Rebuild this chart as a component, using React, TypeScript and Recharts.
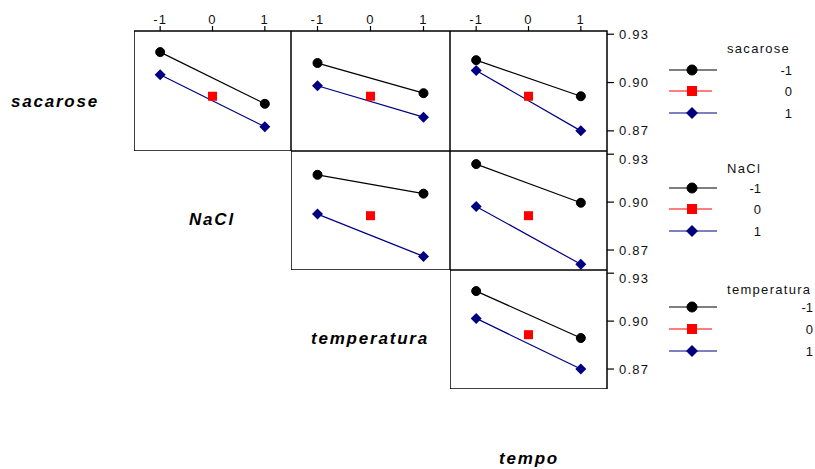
import React from 'react'
import {
  LineChart,
  Line,
  XAxis,
  YAxis,
  ReferenceArea,
} from 'recharts'

// factors in the matrix: rows hold the trace factor, columns the x factor
const factors = ['sacarose', 'NaCl', 'temperatura', 'tempo']
const xLevels = [-1, 1]
const xTicks = [-1, 0, 1]
const yTicks = [0.87, 0.9, 0.93]
const legendLevels = ['-1', '0', '1']

// mean response at x = -1 and x = 1, trace factor at -1 (low) and 1 (high)
const sacaroseNaClLow = [0.9189, 0.8868]
const sacaroseNaClHigh = [0.9048, 0.8726]
const sacaroseTemperaturaLow = [0.9121, 0.8934]
const sacaroseTemperaturaHigh = [0.898, 0.8785]
const sacaroseTempoLow = [0.9139, 0.8915]
const sacaroseTempoHigh = [0.9075, 0.87]
const naclTemperaturaLow = [0.9171, 0.9053]
const naclTemperaturaHigh = [0.8925, 0.866]
const naclTempoLow = [0.9238, 0.8996]
const naclTempoHigh = [0.8973, 0.8611]
const temperaturaTempoLow = [0.9188, 0.8894]
const temperaturaTempoHigh = [0.9017, 0.87]
// center point (all factors at 0)
const centerValue = 0.8915

const FONT = '"Liberation Sans", Arial, sans-serif'
const BLACK = '#000000'
const RED = '#ff0000'
const NAVY = '#000080'

const X_DOMAIN: [number, number] = [-1.5, 1.5]
const Y_DOMAIN: [number, number] = [0.8575, 0.932]

const colX = [134, 291, 450]
const colW = [157, 159, 157]
const rowY = [31, 151, 270]
const rowH = [120, 119, 119]
const TOP_AXIS = 31
const RIGHT_AXIS = 60

const panels = [
  { row: 0, col: 0, low: sacaroseNaClLow, high: sacaroseNaClHigh },
  { row: 0, col: 1, low: sacaroseTemperaturaLow, high: sacaroseTemperaturaHigh },
  { row: 0, col: 2, low: sacaroseTempoLow, high: sacaroseTempoHigh },
  { row: 1, col: 1, low: naclTemperaturaLow, high: naclTemperaturaHigh },
  { row: 1, col: 2, low: naclTempoLow, high: naclTempoHigh },
  { row: 2, col: 2, low: temperaturaTempoLow, high: temperaturaTempoHigh },
]

function Circle({ cx, cy, r, color }: any) {
  return <circle cx={cx} cy={cy} r={r} fill={color} stroke={color} />
}

function Square({ cx, cy, s, color }: any) {
  return <rect x={cx - s / 2} y={cy - s / 2} width={s} height={s} fill={color} />
}

function Diamond({ cx, cy, s, color }: any) {
  return (
    <polygon
      points={`${cx},${cy - s} ${cx + s},${cy} ${cx},${cy + s} ${cx - s},${cy}`}
      fill={color}
    />
  )
}

function Panel({ row, col, low, high }: any) {
  const top = row === 0
  const right = col === 2
  const width = colW[col] + (right ? RIGHT_AXIS : 0)
  const height = rowH[row] + (top ? TOP_AXIS : 0)

  const lowData = xLevels.map((x, i) => ({ x, y: low[i] }))
  const highData = xLevels.map((x, i) => ({ x, y: high[i] }))
  const centerData = [{ x: 0, y: centerValue }]

  const tickStyle = { fontSize: 13, fill: '#111', fontFamily: FONT, letterSpacing: 1.2 }

  return (
    <div
      style={{
        position: 'absolute',
        left: colX[col],
        top: rowY[row] - (top ? TOP_AXIS : 0),
      }}
    >
      <LineChart
        width={width}
        height={height}
        margin={{ top: 0, right: 0, bottom: 0, left: 0 }}
      >
        <XAxis
          dataKey='x'
          type='number'
          orientation='top'
          domain={X_DOMAIN}
          ticks={xTicks}
          allowDataOverflow
          hide={!top}
          height={TOP_AXIS}
          axisLine={false}
          tickSize={5}
          tickLine={{ stroke: BLACK, strokeWidth: 1.2 }}
          tick={tickStyle}
        />
        <YAxis
          type='number'
          orientation='right'
          domain={Y_DOMAIN}
          ticks={yTicks}
          allowDataOverflow
          hide={!right}
          width={RIGHT_AXIS}
          axisLine={false}
          tickSize={7}
          tickMargin={5}
          tickLine={{ stroke: BLACK, strokeWidth: 1.2 }}
          tick={{ ...tickStyle, textAnchor: 'start' }}
          tickFormatter={(v) => v.toFixed(2)}
        />
        <ReferenceArea
          x1={X_DOMAIN[0]}
          x2={X_DOMAIN[1]}
          y1={Y_DOMAIN[0]}
          y2={Y_DOMAIN[1]}
          fill='none'
          stroke={BLACK}
          strokeWidth={1.5}
          ifOverflow='visible'
        />
        <Line
          data={lowData}
          dataKey='y'
          stroke={BLACK}
          strokeWidth={1.2}
          isAnimationActive={false}
          dot={(p: any) => <Circle key={p.index} cx={p.cx} cy={p.cy} r={4.5} color={BLACK} />}
        />
        <Line
          data={highData}
          dataKey='y'
          stroke={NAVY}
          strokeWidth={1.2}
          isAnimationActive={false}
          dot={(p: any) => <Diamond key={p.index} cx={p.cx} cy={p.cy} s={5.5} color={NAVY} />}
        />
        <Line
          data={centerData}
          dataKey='y'
          stroke={RED}
          isAnimationActive={false}
          dot={(p: any) => <Square key={p.index} cx={p.cx} cy={p.cy} s={9} color={RED} />}
        />
      </LineChart>
    </div>
  )
}

// legend blocks beside the right column, one per trace factor
const legendTitleY = [48, 168, 289]
const legendRowY = [
  [70, 91, 113],
  [188, 209, 231],
  [307, 329, 351],
]
const legendLabelRight = [792, 761, 813]

function LegendBlock({ index }: { index: number }) {
  const y0 = legendTitleY[index]
  const rows = legendRowY[index]
  const colors = [BLACK, RED, NAVY]
  return (
    <g>
      <text
        x={727}
        y={y0}
        dominantBaseline='central'
        fontSize={13}
        fontFamily={FONT}
        fill='#111'
        style={{ letterSpacing: '1.3px' }}
      >
        {factors[index]}
      </text>
      {rows.map((y, i) => (
        <g key={i}>
          <line x1={669} x2={i === 1 ? 712 : 717} y1={y} y2={y} stroke={colors[i]} strokeWidth={1.2} />
          {i === 0 && <Circle cx={692} cy={y} r={5} color={BLACK} />}
          {i === 1 && <Square cx={692} cy={y} s={10} color={RED} />}
          {i === 2 && <Diamond cx={692} cy={y} s={6} color={NAVY} />}
          <text
            x={legendLabelRight[index]}
            y={y}
            dominantBaseline='central'
            textAnchor='end'
            fontSize={13}
            fontFamily={FONT}
            fill='#111'
          >
            {legendLevels[i]}
          </text>
        </g>
      ))}
    </g>
  )
}

// factor names on the diagonal cells
const nameX = [55, 212, 370, 529]
const nameY = [101, 219, 338, 458]

export default function App() {
  return (
    <div
      style={{
        position: 'absolute',
        left: 0,
        top: 0,
        width: 815,
        height: 469,
        overflow: 'hidden',
        background: '#fff',
      }}
    >
      <svg
        width={815}
        height={469}
        style={{ position: 'absolute', left: 0, top: 0, pointerEvents: 'none' }}
      >
        {factors.map((f, i) => (
          <text
            key={f}
            x={nameX[i]}
            y={nameY[i]}
            textAnchor='middle'
            dominantBaseline='central'
            fontSize={17}
            fontWeight='bold'
            fontStyle='italic'
            fontFamily={FONT}
            fill='#000'
            style={{ letterSpacing: '1.8px' }}
          >
            {f}
          </text>
        ))}
        {[0, 1, 2].map((i) => (
          <LegendBlock key={i} index={i} />
        ))}
      </svg>
      {panels.map((p) => (
        <Panel key={`${p.row}-${p.col}`} {...p} />
      ))}
    </div>
  )
}
